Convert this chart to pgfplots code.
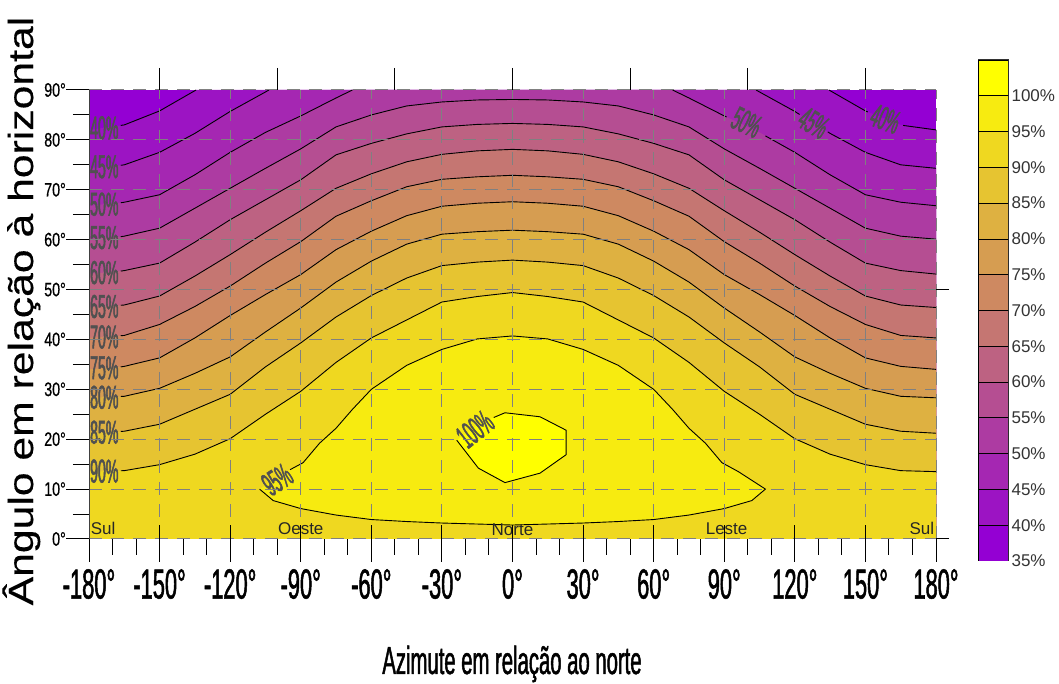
\documentclass[border=0pt]{standalone}
\usepackage{pgfplots}
\usepackage{pgfplotstable}
\pgfplotsset{compat=1.18}
\usepackage{fontspec}
\setmainfont{Liberation Sans}
\newfontfamily\ticknarrow[FakeStretch=0.52, FakeBold=1.2]{Liberation Sans}
\newfontfamily\ylabnarrow[FakeStretch=0.73, FakeBold=0.6]{Liberation Sans}
\newfontfamily\titlewide[FakeStretch=1.22, FakeBold=0.3]{Liberation Sans}
\newfontfamily\cnarrow[FakeStretch=0.43, FakeBold=1.6]{Liberation Sans}
\definecolor{c0}{RGB}{148,0,211}
\definecolor{c1}{RGB}{156,20,195}
\definecolor{c2}{RGB}{165,39,178}
\definecolor{c3}{RGB}{173,59,162}
\definecolor{c4}{RGB}{181,78,146}
\definecolor{c5}{RGB}{189,98,130}
\definecolor{c6}{RGB}{197,118,114}
\definecolor{c7}{RGB}{206,137,97}
\definecolor{c8}{RGB}{214,157,81}
\definecolor{c9}{RGB}{222,177,65}
\definecolor{c10}{RGB}{230,196,49}
\definecolor{c11}{RGB}{239,216,32}
\definecolor{c12}{RGB}{247,235,16}
\definecolor{c13}{RGB}{255,255,0}
\definecolor{gridgray}{RGB}{128,128,128}
\definecolor{lbl}{RGB}{80,80,80}
\newcommand{\clab}{\cnarrow\fontsize{33}{33}\selectfont}
\newcommand{\dlab}{\fontsize{17}{17}\selectfont}
\pgfplotsset{
  base/.style={scale only axis, width=847pt, height=449pt, at={(89pt,145pt)}, anchor=south west,
    xmin=-180, xmax=180, ymin=0, ymax=90},
  clines/.style={black, line width=0.9pt},
}
% contour levels: azimuth, tilt
\pgfplotstableread{
az t
-180 60.1
-166.5 60.6
-165 60.7
-150 62.3
-135 66.3
-120 70.3
-105 74.3
-90 78.2
-75 82.6
-60 85.0
-45 86.8
-30 87.6
-15 88.0
0 88.1
15 88.0
30 87.6
45 86.8
60 85.0
75 82.6
90 78.2
105 74.3
120 70.3
135 66.3
150 62.3
165 60.7
180 60.1
}\Lfivefive
\pgfplotstableread{
az t
-180 53.1
-166.5 53.7
-165 53.8
-150 55.3
-135 59.5
-120 64.0
-105 68.0
-90 72.0
-75 77.0
-60 79.3
-45 81.2
-30 82.6
-15 83.1
0 83.3
15 83.1
30 82.6
45 81.2
60 79.3
75 77.0
90 72.0
105 68.0
120 64.0
135 59.5
150 55.3
165 53.8
180 53.1
}\Lsixty
\pgfplotstableread{
az t
-180 46.4
-166.5 46.85
-165 46.9
-150 48.7
-135 52.7
-120 57.0
-105 61.5
-90 65.8
-75 70.3
-60 73.2
-45 75.6
-30 77.1
-15 77.8
0 78.1
15 77.8
30 77.1
45 75.6
60 73.2
75 70.3
90 65.8
105 61.5
120 57.0
135 52.7
150 48.7
165 46.9
180 46.4
}\Lsixfive
\pgfplotstableread{
az t
-180 40.3
-166.5 40.75
-165 40.8
-150 43.0
-135 46.6
-120 50.7
-105 55.3
-90 59.6
-75 64.7
-60 67.8
-45 70.6
-30 72.1
-15 72.6
0 72.9
15 72.6
30 72.1
45 70.6
60 67.8
75 64.7
90 59.6
105 55.3
120 50.7
135 46.6
150 43.0
165 40.8
180 40.3
}\Lseventy
\pgfplotstableread{
az t
-180 34.0
-166.5 34.5
-165 34.6
-150 36.3
-135 40.3
-120 44.8
-105 49.0
-90 53.0
-75 58.0
-60 61.7
-45 64.8
-30 66.7
-15 67.3
0 67.6
15 67.3
30 66.7
45 64.8
60 61.7
75 58.0
90 53.0
105 49.0
120 44.8
135 40.3
150 36.3
165 34.6
180 34.0
}\Lsevenfive
\pgfplotstableread{
az t
-180 28.3
-166.5 28.57
-165 28.6
-150 30.2
-135 33.2
-120 36.5
-105 41.5
-90 46.3
-75 51.5
-60 55.7
-45 59.1
-30 61.1
-15 61.6
0 61.9
15 61.6
30 61.1
45 59.1
60 55.7
75 51.5
90 46.3
105 41.5
120 36.5
135 33.2
150 30.2
165 28.6
180 28.3
}\Leighty
\pgfplotstableread{
az t
-180 21.2
-166.5 21.56
-165 21.6
-150 23.0
-135 26.0
-120 29.0
-105 34.5
-90 39.3
-75 44.5
-60 48.8
-45 52.3
-30 54.8
-15 55.5
0 55.9
15 55.5
30 54.8
45 52.3
60 48.8
75 44.5
90 39.3
105 34.5
120 29.0
135 26.0
150 23.0
165 21.6
180 21.2
}\Leightfive
\pgfplotstableread{
az t
-180 13.5
-166.5 13.68
-165 13.7
-150 14.9
-135 17.0
-120 20.1
-105 25.0
-90 29.6
-75 35.4
-60 40.3
-45 43.9
-30 47.5
-15 48.6
0 49.4
15 48.6
30 47.5
45 43.9
60 40.3
75 35.4
90 29.6
105 25.0
120 20.1
135 17.0
150 14.9
165 13.7
180 13.5
}\Lninety
\begin{document}
\begin{tikzpicture}[x=1pt,y=1pt]
\useasboundingbox (0,0) rectangle (1059,684);
\begin{axis}[base,
  axis on top,
  axis lines*=left, axis line style={-},
  x axis line style={draw=none},
  y axis line style={draw=black!75, line width=1pt},
  tick pos=left, tick align=outside,
  xtick={-180,-150,...,180},
  xticklabels={-180°,-150°,-120°,-90°,-60°,-30°,0°,30°,60°,90°,120°,150°,180°},
  minor x tick num=2,
  ytick={0,10,...,90},
  yticklabels={0°,10°,20°,30°,40°,50°,60°,70°,80°,90°},
  minor y tick num=1,
  major tick length=23pt, minor tick length=16pt,
  tick style={black, line width=1pt},
  xmajorgrids, ymajorgrids,
  major grid style={gridgray, line width=1pt, dash pattern=on 13pt off 9pt},
  xticklabel style={font=\ticknarrow\fontsize{42}{42}\selectfont, inner ysep=7pt},
  yticklabel style={font=\ylabnarrow\fontsize{19.5}{20}\selectfont, inner xsep=0pt},
]
% filled bands (painted from the lowest level upwards)
\addplot[fill=c0, draw=none] coordinates {(-180,90) (180,90)} \closedcycle;
\addplot[fill=c1, draw=none] coordinates {(-180,82.0) (-165,83.0) (-150,85.8) (-134.5,90) (134.5,90) (150,85.8) (165,83.0) (180,82.0)} \closedcycle;
\addplot[fill=c2, draw=none] coordinates {(-180,74.3) (-165,75.0) (-150,77.5) (-135,81.3) (-120,85.7) (-105,89.6) (-103.5,90) (103.5,90) (105,89.6) (120,85.7) (135,81.3) (150,77.5) (165,75.0) (180,74.3)} \closedcycle;
\addplot[fill=c3, draw=none] coordinates {(-180,66.8) (-165,67.5) (-150,69.0) (-135,73.0) (-120,77.5) (-105,81.5) (-90,84.8) (-75,88.4) (-68,90) (68,90) (75,88.4) (90,84.8) (105,81.5) (120,77.5) (135,73.0) (150,69.0) (165,67.5) (180,66.8)} \closedcycle;
\addplot[fill=c4, draw=none] table {\Lfivefive} \closedcycle;
\addplot[fill=c5, draw=none] table {\Lsixty} \closedcycle;
\addplot[fill=c6, draw=none] table {\Lsixfive} \closedcycle;
\addplot[fill=c7, draw=none] table {\Lseventy} \closedcycle;
\addplot[fill=c8, draw=none] table {\Lsevenfive} \closedcycle;
\addplot[fill=c9, draw=none] table {\Leighty} \closedcycle;
\addplot[fill=c10, draw=none] table {\Leightfive} \closedcycle;
\addplot[fill=c11, draw=none] table {\Lninety} \closedcycle;
\addplot[fill=c12, draw=none] coordinates {(-107.5,10) (-96,13.5) (-89,15.3) (-82,19.2) (-75,22.2) (-68,26.0) (-60,30.0) (-45,34.8) (-30,38.0) (-15,40.1) (0,40.7) (15,40.1) (30,38.0) (45,34.8) (60,30.0) (68,26.0) (75,22.2) (82,19.2) (89,15.3) (96,13.5) (107.5,10) (101.7,7.7) (90,6.1) (75,4.8) (60,3.9) (45,3.5) (30,3.2) (15,3.0) (0,2.8) (-15,3.0) (-30,3.2) (-45,3.5) (-60,3.9) (-75,4.8) (-90,6.1) (-101.7,7.7)} --cycle;
\addplot[fill=c13, draw=none] coordinates {(-23.7,19.8) (-13.8,23.2) (-3.2,25.3) (11.7,24.5) (22.8,21.8) (22.8,16.9) (11.7,13.2) (-3.2,11.3) (-14.5,14.2)} --cycle;
% contour lines
\addplot[clines] coordinates {(-166.5,82.9) (-165,83.0) (-150,85.8) (-134.5,90)};
\addplot[clines] coordinates {(134.5,90) (150,85.8) (151,85.6)};
\addplot[clines] coordinates {(166,82.9) (180,82.0)};
\addplot[clines] coordinates {(-166.5,74.9) (-165,75.0) (-150,77.5) (-135,81.3) (-120,85.7) (-105,89.6) (-103.5,90)};
\addplot[clines] coordinates {(103.5,90) (105,89.6) (120,85.7) (122,85.1)};
\addplot[clines] coordinates {(134,81.6) (135,81.3) (150,77.5) (165,75.0) (180,74.3)};
\addplot[clines] coordinates {(-166.5,67.4) (-165,67.5) (-150,69.0) (-135,73.0) (-120,77.5) (-105,81.5) (-90,84.8) (-75,88.4) (-68,90)};
\addplot[clines] coordinates {(68,90) (75,88.4) (90,84.8) (91,84.6)};
\addplot[clines] coordinates {(107.5,80.8) (120,77.5) (135,73.0) (150,69.0) (165,67.5) (180,66.8)};
\addplot[clines, restrict x to domain=-167:181] table {\Lfivefive};
\addplot[clines, restrict x to domain=-167:181] table {\Lsixty};
\addplot[clines, restrict x to domain=-167:181] table {\Lsixfive};
\addplot[clines, restrict x to domain=-167:181] table {\Lseventy};
\addplot[clines, restrict x to domain=-167:181] table {\Lsevenfive};
\addplot[clines, restrict x to domain=-167:181] table {\Leighty};
\addplot[clines, restrict x to domain=-167:181] table {\Leightfive};
\addplot[clines, restrict x to domain=-167:181] table {\Lninety};
\addplot[clines] coordinates {(-94.5,13.9) (-89,15.3) (-82,19.2) (-75,22.2) (-68,26.0) (-60,30.0) (-45,34.8) (-30,38.0) (-15,40.1) (0,40.7) (15,40.1) (30,38.0) (45,34.8) (60,30.0) (68,26.0) (75,22.2) (82,19.2) (89,15.3) (96,13.5) (107.5,10) (101.7,7.7) (90,6.1) (75,4.8) (60,3.9) (45,3.5) (30,3.2) (15,3.0) (0,2.8) (-15,3.0) (-30,3.2) (-45,3.5) (-60,3.9) (-75,4.8) (-90,6.1) (-101.7,7.7) (-107.5,10)};
\addplot[clines] coordinates {(-8,24.35) (-3.2,25.3) (11.7,24.5) (22.8,21.8) (22.8,16.9) (11.7,13.2) (-3.2,11.3) (-14.5,14.2) (-23.7,19.8)};
% contour labels
\node[font=\clab, text=lbl] at (axis cs:-173.5,82.4) {40\%};
\node[font=\clab, text=lbl] at (axis cs:-173.5,74.6) {45\%};
\node[font=\clab, text=lbl] at (axis cs:-173.5,67.1) {50\%};
\node[font=\clab, text=lbl] at (axis cs:-173.5,60.4) {55\%};
\node[font=\clab, text=lbl] at (axis cs:-173.5,53.4) {60\%};
\node[font=\clab, text=lbl] at (axis cs:-173.5,46.6) {65\%};
\node[font=\clab, text=lbl] at (axis cs:-173.5,40.5) {70\%};
\node[font=\clab, text=lbl] at (axis cs:-173.5,34.3) {75\%};
\node[font=\clab, text=lbl] at (axis cs:-173.5,28.4) {80\%};
\node[font=\clab, text=lbl] at (axis cs:-173.5,21.4) {85\%};
\node[font=\clab, text=lbl] at (axis cs:-173.5,13.6) {90\%};
\node[font=\clab, text=lbl, rotate=-26] at (axis cs:99.5,83.5) {50\%};
\node[font=\clab, text=lbl, rotate=-31] at (axis cs:128,83.4) {45\%};
\node[font=\clab, text=lbl, rotate=-21] at (axis cs:158.5,84.2) {40\%};
\node[font=\clab, text=lbl, rotate=33] at (axis cs:-100,11.9) {95\%};
\node[font=\clab, text=lbl, rotate=38] at (axis cs:-15.9,22.0) {100\%};
% direction labels
\node[anchor=base west, font=\dlab, text=black!85, inner sep=0pt] at (axis cs:-179.3,0.9) {Sul};
\node[anchor=base, font=\dlab, text=black!85, inner sep=0pt] at (axis cs:-90,0.9) {Oeste};
\node[anchor=base, font=\dlab, text=black!85, inner sep=0pt] at (axis cs:0,0.7) {Norte};
\node[anchor=base, font=\dlab, text=black!85, inner sep=0pt] at (axis cs:91,0.9) {Leste};
\node[anchor=base east, font=\dlab, text=black!85, inner sep=0pt] at (axis cs:179.3,0.9) {Sul};
\end{axis}
% inner part of the major bottom ticks
\begin{axis}[base, axis line style={draw=none}, tick pos=left, tick align=inside,
  xtick={-150,-120,...,150}, ytick=\empty, xticklabel=\empty, major tick length=14pt,
  tick style={black, line width=1pt}]
\end{axis}
% top ticks
\begin{axis}[base, axis line style={draw=none}, xtick pos=right, tick align=outside,
  xtick={-150,-100,...,150}, ytick=\empty, xticklabel=\empty, major tick length=22pt,
  tick style={black, line width=1pt}]
\end{axis}
% right ticks
\begin{axis}[base, axis line style={draw=none}, ytick pos=right, tick align=outside,
  ytick={0,50}, xtick=\empty, yticklabel=\empty, major tick length=13pt,
  tick style={black, line width=1pt}]
\end{axis}
% colour scale
\begin{axis}[scale only axis, width=30pt, height=501pt, at={(978pt,123pt)}, anchor=south west,
  xmin=0, xmax=1, ymin=35, ymax=105, xtick=\empty,
  ytick={35,40,45,50,55,60,65,70,75,80,85,90,95,100},
  yticklabels={35\%,40\%,45\%,50\%,55\%,60\%,65\%,70\%,75\%,80\%,85\%,90\%,95\%,100\%},
  yticklabel pos=right, major tick length=0pt,
  axis line style={black!80, line width=1pt},
  yticklabel style={font=\fontsize{17}{17}\selectfont, text=black!80}]
\addplot[fill=c0, draw=black, line width=0.8pt] coordinates {(0,35) (1,35) (1,40) (0,40)} --cycle;
\addplot[fill=c1, draw=black, line width=0.8pt] coordinates {(0,40) (1,40) (1,45) (0,45)} --cycle;
\addplot[fill=c2, draw=black, line width=0.8pt] coordinates {(0,45) (1,45) (1,50) (0,50)} --cycle;
\addplot[fill=c3, draw=black, line width=0.8pt] coordinates {(0,50) (1,50) (1,55) (0,55)} --cycle;
\addplot[fill=c4, draw=black, line width=0.8pt] coordinates {(0,55) (1,55) (1,60) (0,60)} --cycle;
\addplot[fill=c5, draw=black, line width=0.8pt] coordinates {(0,60) (1,60) (1,65) (0,65)} --cycle;
\addplot[fill=c6, draw=black, line width=0.8pt] coordinates {(0,65) (1,65) (1,70) (0,70)} --cycle;
\addplot[fill=c7, draw=black, line width=0.8pt] coordinates {(0,70) (1,70) (1,75) (0,75)} --cycle;
\addplot[fill=c8, draw=black, line width=0.8pt] coordinates {(0,75) (1,75) (1,80) (0,80)} --cycle;
\addplot[fill=c9, draw=black, line width=0.8pt] coordinates {(0,80) (1,80) (1,85) (0,85)} --cycle;
\addplot[fill=c10, draw=black, line width=0.8pt] coordinates {(0,85) (1,85) (1,90) (0,90)} --cycle;
\addplot[fill=c11, draw=black, line width=0.8pt] coordinates {(0,90) (1,90) (1,95) (0,95)} --cycle;
\addplot[fill=c12, draw=black, line width=0.8pt] coordinates {(0,95) (1,95) (1,100) (0,100)} --cycle;
\addplot[fill=c13, draw=black, line width=0.8pt] coordinates {(0,100) (1,100) (1,105) (0,105)} --cycle;
\end{axis}
% axis titles
\node[rotate=90, anchor=base, font=\titlewide\fontsize{35}{35}\selectfont] at (33,373) {Ângulo em relação à horizontal};
\node[anchor=base, font=\ticknarrow\fontsize{39}{39}\selectfont] at (512,10) {Azimute em relação ao norte};
\end{tikzpicture}
\end{document}
